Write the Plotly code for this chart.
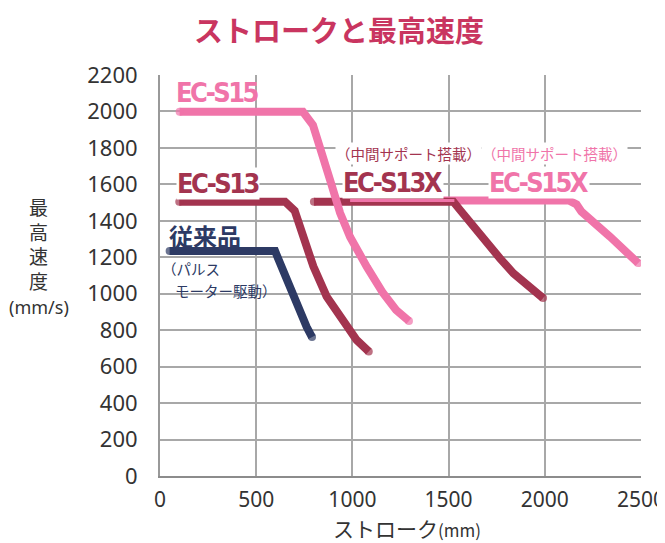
import plotly.graph_objects as go

# ---- data ----
conv_x = [50, 598, 615, 658, 710, 762, 790]
conv_y = [1235, 1235, 1190, 1076, 929, 819, 762]

s13_x = [100, 650, 700, 736, 797, 866, 944, 1022, 1085]
s13_y = [1505, 1505, 1455, 1350, 1150, 985, 856, 746, 683]

s15_x = [102, 743, 795, 832, 889, 936, 988, 1076, 1159, 1227, 1294]
s15_y = [1998, 1998, 1925, 1788, 1607, 1443, 1311, 1146, 1004, 911, 850]

s13x_x = [800, 1525, 1559, 1629, 1698, 1767, 1837, 1923, 1991]
s13x_y = [1505, 1505, 1460, 1368, 1277, 1194, 1112, 1035, 976]

s15x_x = [988, 1530, 2125, 2165, 2190, 2339, 2485]
s15x_y = [1512, 1512, 1512, 1490, 1451, 1313, 1168]

x_ticks = [0, 500, 1000, 1500, 2000, 2500]
y_ticks = [0, 200, 400, 600, 800, 1000, 1200, 1400, 1600, 1800, 2000, 2200]

PINK = "#f074a9"
RED = "#a3344f"
NAVY = "#2d3a64"
W = 8

# page has an 8px body margin: figure is sized to fit the window
FIG_W, FIG_H = 657, 535

fig = go.Figure()


def add_line(xs, ys, color, width=W, caps=True):
    sizes = [0] * len(xs)
    if caps:
        sizes[0] = width
        sizes[-1] = width
    fig.add_trace(go.Scatter(
        x=xs, y=ys, mode="lines+markers" if caps else "lines",
        line=dict(color=color, width=width),
        marker=dict(size=sizes, color=color, line=dict(width=0)),
        hoverinfo="skip", showlegend=False))


add_line(s15x_x, s15x_y, PINK)
add_line(s13x_x, s13x_y, RED)
add_line(s15x_x[:2], s15x_y[:2], PINK, width=3, caps=False)
add_line(s15_x, s15_y, PINK)
add_line(s13_x, s13_y, RED)
add_line(conv_x, conv_y, NAVY)

JP = "Noto Sans CJK JP"
COND = "DejaVu Sans Condensed, DejaVu Sans, sans-serif"
CST = "font-stretch:condensed;letter-spacing:-2.6px"

labels = [
    # text, x, y, color, size, family, anchor, bg
    (f"<span style='{CST}'><b>EC-S15</b></span>", 301, 2106, PINK, 27, COND, "center", False),
    (f"<span style='{CST}'><b>EC-S13</b></span>", 301, 1607, RED, 27, COND, "center", True),
    (f"<span style='{CST}'><b>EC-S13X</b></span>", 1211, 1610, RED, 27, COND, "center", True),
    (f"<span style='{CST}'><b>EC-S15X</b></span>", 1970, 1610, PINK, 27, COND, "center", True),
    ("（中間サポート搭載）", 1294, 1769, RED, 14.5, JP, "center", True),
    ("（中間サポート搭載）", 2048, 1769, PINK, 14.5, JP, "center", True),
    ("<b>従来品</b>", 234, 1322, NAVY, 24, JP, "center", False),
    ("（パルス", 5, 1141, NAVY, 14.5, JP, "left", False),
    ("モーター駆動）", 72, 1020, NAVY, 14.5, JP, "left", False),
]
for t, x, y, c, s, f, a, bg in labels:
    fig.add_annotation(text=t, x=x, y=y, xref="x", yref="y", showarrow=False,
                       xanchor=a, yanchor="middle",
                       font=dict(color=c, size=s, family=f),
                       bgcolor="white" if bg else "rgba(0,0,0,0)", borderpad=0)

# chart title
fig.add_annotation(text="<b>ストロークと最高速度</b>", xref="paper", yref="paper",
                   x=(339 - 160) / 481, y=(476 - 29) / 401, showarrow=False,
                   xanchor="center", yanchor="middle",
                   font=dict(size=29, family=JP, color="#c93560"))
# axis titles
fig.add_annotation(text="最<br>高<br>速<br>度", xref="paper", yref="paper",
                   x=-0.2516, y=(476 - 244) / 401, showarrow=False, xanchor="center", yanchor="middle",
                   font=dict(size=19, family=JP, color="#333333"))
fig.add_annotation(text="(mm/s)", xref="paper", yref="paper",
                   x=-0.2516, y=(476 - 307) / 401, showarrow=False, xanchor="center", yanchor="middle",
                   font=dict(size=18, family="Noto Sans", color="#333333"))
fig.add_annotation(text="ストローク<span style='font-size:17px'>(mm)</span>", xref="paper", yref="paper",
                   x=0.5135, y=(476 - 528) / 401, showarrow=False, xanchor="center", yanchor="middle",
                   font=dict(size=21, family=JP, color="#333333"))

fig.update_layout(
    width=FIG_W, height=FIG_H,
    margin=dict(l=152, r=24, t=67, b=67, autoexpand=False),
    plot_bgcolor="white", paper_bgcolor="white",
    xaxis=dict(range=[0, 2500], tickvals=x_ticks, ticktext=[str(v) for v in x_ticks],
               showgrid=True, gridcolor="#a8a8a8", gridwidth=1.5, zeroline=False,
               showline=True, linecolor="#8c8c8c", linewidth=2,
               ticks="", ticklabelstandoff=4, ticklabeloverflow="allow",
               tickfont=dict(size=21, family="Noto Sans", color="#333333")),
    yaxis=dict(range=[0, 2200], tickvals=y_ticks, ticktext=[str(v) for v in y_ticks],
               showgrid=True, gridcolor="#a8a8a8", gridwidth=1.5, zeroline=False,
               showline=True, linecolor="#999999", linewidth=2,
               ticks="", ticklabelstandoff=16, ticklabeloverflow="allow",
               tickfont=dict(size=22, family="Noto Sans", color="#333333")),
)

fig.write_html("out.html")
